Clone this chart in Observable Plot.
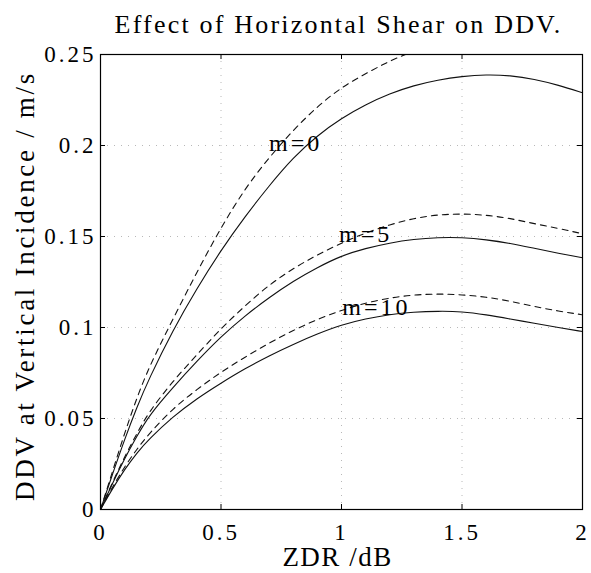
<!DOCTYPE html>
<html><head><meta charset="utf-8">
<script src="https://cdn.jsdelivr.net/npm/d3@7"></script>
<script src="https://cdn.jsdelivr.net/npm/@observablehq/plot@0.6"></script>
<style>body{margin:0;background:#fff}</style>
</head><body><div id="chart"></div>
<script>
const titleText = "Effect of Horizontal Shear on DDV.";
const xLabel = "ZDR /dB";
const yLabel = "DDV at Vertical Incidence / m/s";
const xTicks = [0, 0.5, 1, 1.5, 2];
const xTickLabels = ["0", "0.5", "1", "1.5", "2"];
const yTicks = [0, 0.05, 0.1, 0.15, 0.2, 0.25];
const yTickLabels = ["0", "0.05", "0.1", "0.15", "0.2", "0.25"];
const xGrid = [0.5, 1, 1.5];
const yGrid = [0.05, 0.1, 0.15, 0.2];

const zdr = [0, 0.05, 0.1, 0.15, 0.2, 0.3, 0.4, 0.5, 0.6, 0.7, 0.8, 0.9, 1.0, 1.1, 1.2, 1.3, 1.4, 1.5, 1.6, 1.7, 1.8, 1.9, 2.0];
const solidM0 = [0, 0.0195, 0.0385, 0.056, 0.0715, 0.0985, 0.1215, 0.1425, 0.1610, 0.1780, 0.1935, 0.2055, 0.215, 0.2225, 0.2285, 0.233, 0.236, 0.238, 0.239, 0.2385, 0.2365, 0.2332, 0.229];
const dashedM0 = [0, 0.021, 0.042, 0.061, 0.078, 0.1045, 0.1305, 0.155, 0.1765, 0.1935, 0.2085, 0.2215, 0.232, 0.2395, 0.2465, 0.252, 0.2555, 0.2575, 0.258, 0.2575, 0.256, 0.2535, 0.251];
const solidM5 = [0, 0.0145, 0.028, 0.040, 0.0515, 0.067, 0.0815, 0.095, 0.1065, 0.1165, 0.1255, 0.133, 0.1395, 0.1435, 0.1465, 0.1485, 0.1495, 0.1495, 0.1483, 0.1463, 0.1435, 0.1408, 0.1383];
const dashedM5 = [0, 0.015, 0.029, 0.0415, 0.0535, 0.0705, 0.085, 0.0995, 0.112, 0.1235, 0.1325, 0.140, 0.1465, 0.152, 0.1565, 0.160, 0.162, 0.1625, 0.1618, 0.160, 0.157, 0.1545, 0.1515];
const solidM10 = [0, 0.0115, 0.022, 0.031, 0.0385, 0.051, 0.061, 0.0695, 0.0775, 0.0845, 0.0908, 0.0965, 0.1015, 0.1048, 0.1072, 0.1085, 0.109, 0.1088, 0.107, 0.1047, 0.1023, 0.1, 0.0978];
const dashedM10 = [0, 0.0125, 0.0235, 0.033, 0.0415, 0.0555, 0.066, 0.0755, 0.0838, 0.0915, 0.0985, 0.1045, 0.1095, 0.1135, 0.1163, 0.118, 0.1185, 0.118, 0.1168, 0.1145, 0.1115, 0.109, 0.107];

const curveLabels = ["m=0", "m=5", "m=10"];
const curveLabelX = [0.81, 1.10, 1.145];
const curveLabelY = [0.197, 0.147, 0.1066];

function toRows(name, vals) { return zdr.map((x, i) => ({series: name, x, y: vals[i]})); }
const solidRows = [...toRows("m0", solidM0), ...toRows("m5", solidM5), ...toRows("m10", solidM10)];
const dashedRows = [...toRows("m0", dashedM0), ...toRows("m5", dashedM5), ...toRows("m10", dashedM10)];
const labelRows = curveLabels.map((t, i) => ({t, x: curveLabelX[i], y: curveLabelY[i]}));

const W = 591, H = 573, mT = 54, mL = 100, mR = 9, mB = 64;
const fw = W - mL - mR, fh = H - mT - mB, tk = 5;
const serif = "'Liberation Serif', 'Times New Roman', serif";

const svg = Plot.plot({
  width: W, height: H,
  marginTop: mT, marginLeft: mL, marginRight: mR, marginBottom: mB,
  style: {fontFamily: serif, background: "white", color: "black"},
  x: {domain: [0, 2]},
  y: {domain: [0, 0.25]},
  marks: [
    Plot.ruleX(xGrid, {stroke: "#888", strokeOpacity: 0.6, strokeDasharray: "1,6"}),
    Plot.ruleY(yGrid, {stroke: "#888", strokeOpacity: 0.6, strokeDasharray: "1,6"}),
    Plot.line(solidRows, {x: "x", y: "y", z: "series", stroke: "#111", strokeWidth: 1.1, curve: "basis"}),
    Plot.line(dashedRows, {x: "x", y: "y", z: "series", stroke: "#111", strokeWidth: 1.1, strokeDasharray: "6,5", curve: "basis", clip: true}),
    Plot.frame({stroke: "black", strokeWidth: 1.2}),
    Plot.ruleX(xTicks, {insetTop: fh - tk, stroke: "black"}),
    Plot.ruleX(xTicks, {insetBottom: fh - tk, stroke: "black"}),
    Plot.ruleY(yTicks, {insetRight: fw - tk, stroke: "black"}),
    Plot.ruleY(yTicks, {insetLeft: fw - tk, stroke: "black"}),
    Plot.axisX({ticks: xTicks, tickFormat: (d, i) => xTickLabels[i], tickSize: 0, tickPadding: 14, fontSize: 23, label: null}),
    Plot.axisY({ticks: yTicks, tickFormat: (d, i) => yTickLabels[i], tickSize: 0, tickPadding: 4, fontSize: 23, label: null}),
    Plot.text(labelRows, {x: "x", y: "y", text: "t", fontSize: 24, lineAnchor: "bottom", fill: "black"}),
    Plot.text([titleText], {frameAnchor: "top", text: d => d, textAnchor: "middle", dx: -3, dy: -22, lineAnchor: "bottom", fontSize: 26, fill: "black"}),
    Plot.text([xLabel], {frameAnchor: "bottom", text: d => d, textAnchor: "middle", dx: -4, dy: 56, lineAnchor: "bottom", fontSize: 27, fill: "black"}),
    Plot.text([yLabel], {frameAnchor: "left", text: d => d, textAnchor: "middle", rotate: -90, dx: -67, dy: 4, lineAnchor: "bottom", fontSize: 27, fill: "black"})
  ]
});

const s = d3.select(svg);
s.selectAll('g[aria-label="x-axis tick label"] text').attr("letter-spacing", "3px");
s.selectAll('g[aria-label="y-axis tick label"] text').attr("letter-spacing", "3px");
const textGroups = s.selectAll('g[aria-label="text"]').nodes();
const spacings = ["3px", "2.2px", "1.5px", "2.7px"];
textGroups.forEach((g, i) => d3.select(g).selectAll("text").attr("letter-spacing", spacings[i] || null));
document.getElementById("chart").appendChild(svg);
</script>
</body></html>
